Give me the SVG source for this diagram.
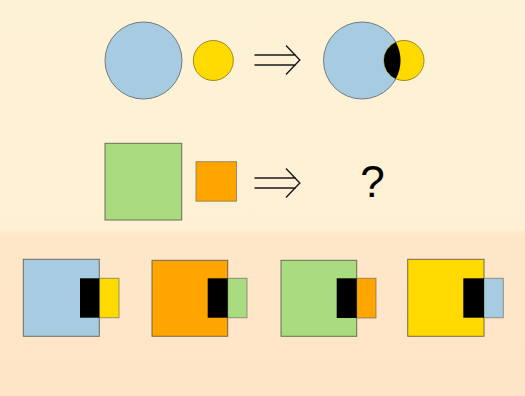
<svg xmlns="http://www.w3.org/2000/svg" width="525" height="396" viewBox="0 0 525 396">
  <defs>
    <linearGradient id="bg" x1="0" y1="0" x2="0" y2="396" gradientUnits="userSpaceOnUse">
      <stop offset="0" stop-color="#FDF1D6"/>
      <stop offset="0.578" stop-color="#FDF0D5"/>
      <stop offset="0.592" stop-color="#FEE6C8"/>
      <stop offset="1" stop-color="#FEE5C8"/>
    </linearGradient>
    <style>
      .blue{fill:#A7CCE2}
      .yellow{fill:#FFDA00}
      .green{fill:#A9DC7E}
      .orange{fill:#FFA500}
      .black{fill:#000}
      .big{stroke:#5a5a4a;stroke-width:1;stroke-opacity:0.85}
      .small{stroke:#707060;stroke-width:1;stroke-opacity:0.7}
      .circ{stroke:#6f7b80;stroke-width:1}
      .ycirc{stroke:#9a8a20;stroke-width:1}
      .arrow{fill:none;stroke:#1a1a1a;stroke-width:1.4;stroke-linecap:butt}
      .q{font-family:"Liberation Sans",Arial,sans-serif;font-size:44px;fill:#000}
    </style>
  </defs>
  <rect x="0" y="0" width="525" height="396" fill="url(#bg)"/>

  <g id="circles-pair">
    <circle class="blue circ" cx="143.5" cy="60.5" r="38.5"/>
    <circle class="yellow ycirc" cx="213.3" cy="60.5" r="20"/>
  </g>
  <g id="arrow-top">
    <path class="arrow" d="M254.5,55 H296 M254.5,65 H296 M286,45.5 L299.8,60 L286,74.5"/>
  </g>
  <g id="circles-result">
    <circle class="blue circ" cx="362" cy="60.5" r="38.5"/>
    <circle class="yellow ycirc" cx="404" cy="60.5" r="20"/>
    <path class="black" d="M395.88,42.2 A20,20 0 0 0 395.88,78.8 A38.5,38.5 0 0 0 395.88,42.2 Z"/>
  </g>

  <g id="squares-pair">
    <rect class="green big" x="105" y="143.3" width="76.7" height="76.7"/>
    <rect class="orange small" x="196" y="161.7" width="40.5" height="39.5"/>
  </g>
  <g id="arrow-mid">
    <path class="arrow" d="M254.5,178 H296 M254.5,188 H296 M286,168.5 L299.8,183 L286,197.5"/>
  </g>
  <g id="question">
    <text class="q" x="372.5" y="197" text-anchor="middle">?</text>
  </g>

  <g id="option-1">
    <rect class="blue big" x="23.3" y="259.3" width="76" height="77"/>
    <rect class="yellow small" x="99.3" y="278.3" width="19.7" height="39.4"/>
    <rect class="black" x="80" y="278.3" width="19.3" height="39.4"/>
  </g>
  <g id="option-2">
    <rect class="orange big" x="152" y="260.3" width="75.7" height="76"/>
    <rect class="green small" x="227.7" y="278.3" width="19.3" height="39.4"/>
    <rect class="black" x="207.7" y="278.3" width="20" height="39.4"/>
  </g>
  <g id="option-3">
    <rect class="green big" x="281" y="260.3" width="75.7" height="76"/>
    <rect class="orange small" x="356.7" y="278.3" width="19.3" height="39.7"/>
    <rect class="black" x="336.7" y="278.3" width="20" height="39.7"/>
  </g>
  <g id="option-4">
    <rect class="yellow big" x="407.7" y="259.3" width="76.3" height="77"/>
    <rect class="blue small" x="484" y="278.3" width="19.3" height="39.4"/>
    <rect class="black" x="463.3" y="278.3" width="20.7" height="39.4"/>
  </g>
</svg>
